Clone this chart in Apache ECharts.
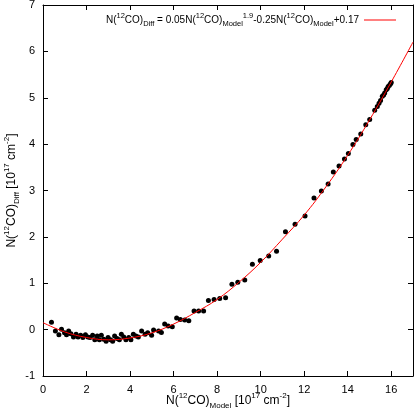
<!DOCTYPE html>
<html lang="en">
<head>
    <meta charset="UTF-8">
    <title>12CO fit</title>
    <style>
        html, body, #chart {
            width: 100%;
            height: 100%;
            margin: 0;
            padding: 0;
            background: #fff;
        }
    </style>
    <script src="https://cdn.jsdelivr.net/npm/echarts@6/dist/echarts.min.js"></script>
</head>
<body>
    <div id="chart"></div>
    <script>
        // measured points (x = N(12CO)Model, y = N(12CO)Diff)
        var dotX = [0.39, 0.57, 0.73, 0.85, 0.99, 1.08, 1.18, 1.28, 1.40, 1.52, 1.61, 1.73, 1.83, 1.95,
            2.06, 2.16, 2.28, 2.38, 2.49, 2.59, 2.68, 2.79, 2.90, 2.99, 3.10, 3.20, 3.29, 3.40, 3.51,
            3.60, 3.71, 3.81, 3.94, 4.04, 4.15, 4.27, 4.38, 4.53, 4.69, 4.81, 4.99, 5.08, 5.31, 5.44,
            5.59, 5.75, 5.94, 6.14, 6.31, 6.51, 6.70, 6.94, 7.15, 7.38, 7.60, 7.86, 8.12, 8.39, 8.68,
            8.95, 9.27, 9.62, 9.98, 10.37, 10.73, 11.14, 11.58, 12.04, 12.45, 12.79, 13.10, 13.34,
            13.60, 13.85, 14.03, 14.24, 14.39, 14.60, 14.83, 15.01, 15.24, 15.36, 15.44, 15.51, 15.59,
            15.65, 15.70, 15.77, 15.82, 15.86, 15.92, 15.97, 16.00];
        var dotY = [0.16, -0.03, -0.11, 0.01, -0.07, -0.11, -0.03, -0.09, -0.16, -0.10, -0.16, -0.12, -0.17, -0.11,
            -0.16, -0.17, -0.12, -0.22, -0.14, -0.22, -0.12, -0.21, -0.25, -0.17, -0.22, -0.25, -0.14, -0.19, -0.22,
            -0.10, -0.16, -0.22, -0.17, -0.22, -0.10, -0.14, -0.16, -0.03, -0.10, -0.07, -0.12, -0.01, -0.03, -0.06,
            0.12, 0.08, 0.06, 0.25, 0.22, 0.21, 0.19, 0.40, 0.40, 0.40, 0.63, 0.65, 0.67, 0.69, 0.98,
            1.02, 1.07, 1.41, 1.49, 1.59, 1.69, 2.11, 2.27, 2.45, 2.84, 2.99, 3.14, 3.40,
            3.53, 3.68, 3.80, 3.99, 4.10, 4.22, 4.42, 4.53, 4.73, 4.81, 4.88, 4.94, 5.03,
            5.06, 5.10, 5.17, 5.20, 5.24, 5.27, 5.30, 5.33];

        // fitted curve
        var fitX = [0, 1, 2, 3, 4, 5, 6, 7, 8, 9, 10, 11, 12, 13, 14, 15, 16, 17];
        var fitY = [0.15, -0.05, -0.17, -0.22, -0.18, -0.07, 0.12, 0.37, 0.65, 1.02, 1.45, 1.95, 2.47, 3.08, 3.76, 4.52, 5.34, 6.2];

        var xTicks = { min: 0, max: 17, interval: 2 };
        var yTicks = { min: -1, max: 7, interval: 1 };

        var font = "'Liberation Sans', Arial, sans-serif";
        var rich = {
            b: { fontSize: 12, fontFamily: font, color: '#000', lineHeight: 18 },
            sup: { fontSize: 8, fontFamily: font, color: '#000', lineHeight: 10, verticalAlign: 'top' },
            sub: { fontSize: 8, fontFamily: font, color: '#000', lineHeight: 10, verticalAlign: 'bottom' }
        };
        var legRich = {
            b: { fontSize: 10, fontFamily: font, color: '#000', lineHeight: 16 },
            sup: { fontSize: 7.5, fontFamily: font, color: '#000', lineHeight: 9, verticalAlign: 'top' },
            sub: { fontSize: 7.5, fontFamily: font, color: '#000', lineHeight: 9, verticalAlign: 'bottom' }
        };

        function zip(a, b) {
            return a.map(function (v, i) { return [v, b[i]]; });
        }

        function axisBase(o) {
            return {
                min: o.min,
                max: o.max,
                interval: o.interval,
                axisLine: { show: true, onZero: false, lineStyle: { color: '#000', width: 1 } },
                axisTick: { show: true, inside: true, length: 5, lineStyle: { color: '#000' } },
                splitLine: { show: false }
            };
        }

        var xBottom = Object.assign(axisBase(xTicks), {
            type: 'value',
            position: 'bottom',
            axisLabel: { color: '#000', fontSize: 11, fontFamily: font, margin: 8, showMaxLabel: false },
            name: '{b|N(}{sup|12}{b|CO)}{sub|Model}{b| [10}{sup|17}{b| cm}{sup|-2}{b|]}',
            nameLocation: 'middle',
            nameGap: 16,
            nameMoveOverlap: false,
            nameTextStyle: { rich: rich }
        });
        var xTop = Object.assign(axisBase(xTicks), {
            type: 'value',
            position: 'top',
            axisLabel: { show: false }
        });
        var yLeft = Object.assign(axisBase(yTicks), {
            type: 'value',
            position: 'left',
            axisLabel: { color: '#000', fontSize: 11, fontFamily: font, margin: 8 },
            name: '{b|N(}{sup|12}{b|CO)}{sub|Diff}{b| [10}{sup|17}{b| cm}{sup|-2}{b|]}',
            nameLocation: 'middle',
            nameGap: 22,
            nameMoveOverlap: false,
            nameTextStyle: { rich: rich }
        });
        var yRight = Object.assign(axisBase(yTicks), {
            type: 'value',
            position: 'right',
            axisLabel: { show: false }
        });

        var chart = echarts.init(document.getElementById('chart'), null, { renderer: 'canvas' });
        chart.setOption({
            animation: false,
            backgroundColor: '#fff',
            grid: { left: 43, right: 2, top: 5, bottom: 37, containLabel: false, outerBoundsMode: 'none' },
            xAxis: [xBottom, xTop],
            yAxis: [yLeft, yRight],
            legend: {
                data: [{ name: 'fit', icon: 'rect' }],
                right: 14,
                top: 7,
                align: 'right',
                itemWidth: 32,
                itemHeight: 1,
                itemStyle: { color: '#ff0000' },
                formatter: function () {
                    return '{b|N(}{sup|12}{b|CO)}{sub|Diff}{b| = 0.05N(}{sup|12}{b|CO)}{sub|Model}{sup|1.9}' +
                        '{b|-0.25N(}{sup|12}{b|CO)}{sub|Model}{b|+0.17}';
                },
                textStyle: { rich: legRich }
            },
            series: [
                {
                    name: 'data',
                    type: 'scatter',
                    data: zip(dotX, dotY),
                    symbol: 'circle',
                    symbolSize: 5,
                    itemStyle: { color: '#000', opacity: 1 },
                    z: 3
                },
                {
                    name: 'fit',
                    type: 'line',
                    data: zip(fitX, fitY),
                    smooth: 0.4,
                    symbol: 'none',
                    showSymbol: false,
                    lineStyle: { color: '#ff0000', width: 1 },
                    itemStyle: { color: '#ff0000' },
                    z: 4
                }
            ]
        });
    </script>
</body>
</html>
